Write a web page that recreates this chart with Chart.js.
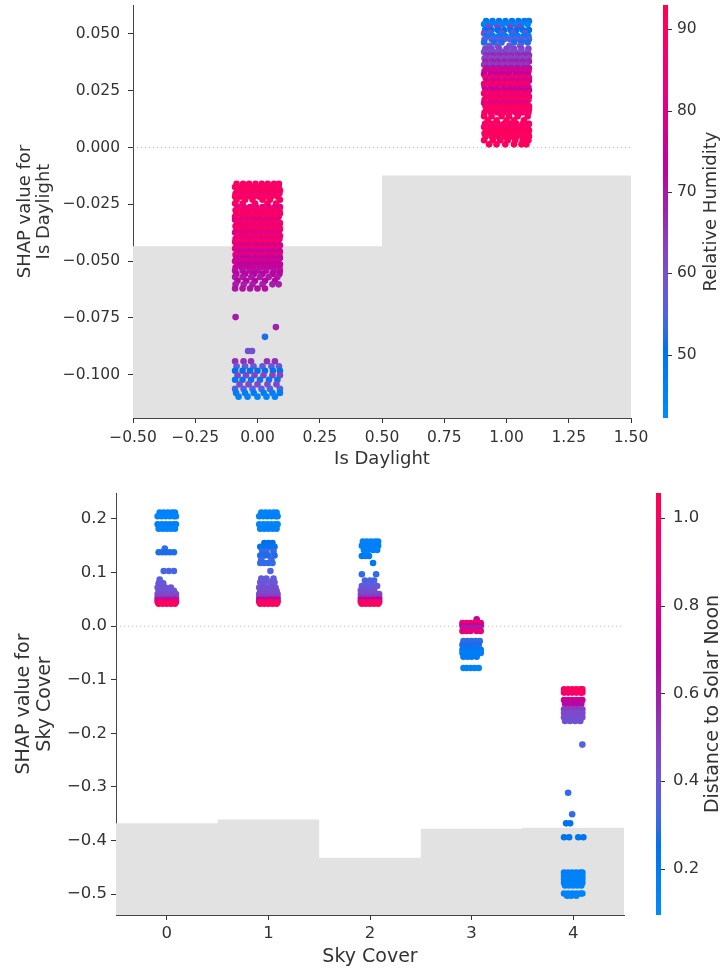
<!DOCTYPE html>
<html>
<head>
<meta charset="utf-8">
<script src="https://cdn.jsdelivr.net/npm/chart.js@4.4.1/dist/chart.umd.min.js"></script>
<style>
  body { margin: 0; background: #fff; }
  canvas { display: block; }
</style>
</head>
<body>
<canvas id="daylightChart" width="722" height="480"></canvas>
<canvas id="skyChart" width="722" height="490"></canvas>
<script>
// ---- Is Daylight (coloured by Relative Humidity) ----
const daylightCats = [0, 1];
const daylightRangeX = [-0.5, 1.5];
const daylightRangeY = [-0.119, 0.0627];
const daylightXTicks = [-0.5, -0.25, 0, 0.25, 0.5, 0.75, 1, 1.25, 1.5];
const daylightYTicks = [-0.1, -0.075, -0.05, -0.025, 0, 0.025, 0.05];
const daylightHistEdges = [-0.5, 0.5, 1.5];
const daylightHistTops = [-0.0434, -0.0123];
const humidityRange = [42.2, 93];
const humidityTicks = [50, 60, 70, 80, 90];

// rows: [SHAP value, humidity, jitter offsets...]
const daylightOff = [
  [-0.0160, 90, -0.084, -0.058, -0.034, -0.008, 0.017, 0.041, 0.066, 0.086],
  [-0.0174, 86, -0.09, -0.064, -0.04, -0.015, 0.01, 0.036, 0.06, 0.085],
  [-0.0188, 92, -0.08, -0.055, -0.03, -0.005, 0.02, 0.045, 0.07, 0.09],
  [-0.0202, 84, -0.088, -0.062, -0.037, -0.012, 0.013, 0.038, 0.063, 0.088],
  [-0.0216, 90, -0.09, -0.066, -0.042, -0.018, 0.006, 0.03, 0.055, 0.08],
  [-0.0230, 88, -0.084, -0.05, -0.02, 0.02, 0.05, 0.09],
  [-0.0246, 91, -0.09, -0.06, -0.01, 0.04, 0.075],
  [-0.0262, 82, -0.08, -0.055, -0.03, -0.005, 0.02, 0.045, 0.07, 0.09],
  [-0.0276, 89, -0.088, -0.062, -0.037, -0.012, 0.013, 0.038, 0.063, 0.088],
  [-0.0290, 85, -0.084, -0.058, -0.034, -0.008, 0.017, 0.041, 0.066, 0.09],
  [-0.0304, 91, -0.09, -0.064, -0.04, -0.015, 0.01, 0.036, 0.06, 0.085],
  [-0.0318, 80, -0.09, -0.066, -0.042, -0.018, 0.006, 0.03, 0.055, 0.08],
  [-0.0332, 88, -0.08, -0.055, -0.03, -0.005, 0.02, 0.045, 0.07, 0.09],
  [-0.0346, 84, -0.088, -0.062, -0.037, -0.012, 0.013, 0.038, 0.063, 0.088],
  [-0.0360, 90, -0.084, -0.058, -0.034, -0.008, 0.017, 0.041, 0.066, 0.09],
  [-0.0374, 79, -0.09, -0.064, -0.04, -0.015, 0.01, 0.036, 0.06, 0.085],
  [-0.0388, 87, -0.08, -0.055, -0.03, -0.005, 0.02, 0.045, 0.07, 0.09],
  [-0.0402, 82, -0.088, -0.062, -0.037, -0.012, 0.013, 0.038, 0.063, 0.088],
  [-0.0416, 89, -0.09, -0.066, -0.042, -0.018, 0.006, 0.03, 0.055, 0.08],
  [-0.0430, 77, -0.084, -0.058, -0.034, -0.008, 0.017, 0.041, 0.066, 0.09],
  [-0.0444, 85, -0.09, -0.064, -0.04, -0.015, 0.01, 0.036, 0.06, 0.085],
  [-0.0458, 75, -0.08, -0.055, -0.03, -0.005, 0.02, 0.045, 0.07, 0.09],
  [-0.0472, 82, -0.088, -0.062, -0.037, -0.012, 0.013, 0.038, 0.063, 0.088],
  [-0.0486, 73, -0.084, -0.058, -0.034, -0.008, 0.017, 0.041, 0.066, 0.09],
  [-0.0500, 79, -0.09, -0.066, -0.042, -0.018, 0.006, 0.03, 0.055, 0.08],
  [-0.0514, 72, -0.08, -0.055, -0.03, -0.005, 0.02, 0.045, 0.07, 0.09],
  [-0.0528, 76, -0.088, -0.062, -0.037, -0.012, 0.013, 0.038, 0.063, 0.088],
  [-0.0542, 71, -0.09, -0.06, -0.03, 0.0, 0.035, 0.065, 0.09],
  [-0.0556, 73, -0.085, -0.05, -0.015, 0.02, 0.06, 0.088],
  [-0.0570, 70, -0.09, -0.06, -0.025, 0.01, 0.045, 0.08],
  [-0.0586, 72, -0.08, -0.045, -0.01, 0.03, 0.07],
  [-0.0602, 69, -0.088, -0.055, -0.02, 0.02, 0.06, 0.085],
  [-0.0620, 71, -0.09, -0.06, -0.03, 0.0, 0.03],
  [-0.0746, 70, -0.088],
  [-0.0790, 68, 0.074],
  [-0.0833, 52, 0.03],
  [-0.0895, 60, -0.038, -0.022],
  [-0.0940, 66, -0.09, -0.056, -0.026, 0.038, 0.07],
  [-0.0962, 57, -0.084, -0.05, -0.016, 0.02, 0.056, 0.086],
  [-0.0982, 51, -0.09, -0.06, -0.03, 0.0, 0.03, 0.062, 0.09],
  [-0.1002, 63, -0.08, -0.046, -0.012, 0.024, 0.06, 0.09],
  [-0.1022, 49, -0.09, -0.06, -0.026, 0.01, 0.046, 0.08],
  [-0.1042, 62, -0.072, -0.036, 0.0, 0.04, 0.076],
  [-0.1062, 55, -0.09, -0.056, -0.02, 0.016, 0.05, 0.09],
  [-0.1080, 47, -0.086, -0.05, -0.015, 0.025, 0.06, 0.09],
  [-0.1096, 45, -0.076, -0.04, 0.0, 0.036, 0.07]
];
const daylightOn = [
  [0.0556, 49, -0.082, -0.056, -0.03, -0.004, 0.022, 0.048, 0.072, 0.09],
  [0.0542, 45, -0.09, -0.064, -0.04, -0.015, 0.01, 0.036, 0.06, 0.085],
  [0.0530, 63, -0.07, -0.035, 0.015, 0.05],
  [0.0517, 51, -0.086, -0.06, -0.035, -0.01, 0.016, 0.04, 0.066, 0.09],
  [0.0503, 60, -0.09, -0.065, -0.02, 0.025, 0.075],
  [0.0490, 47, -0.08, -0.055, -0.03, -0.006, 0.02, 0.045, 0.07, 0.088],
  [0.0476, 56, -0.088, -0.06, -0.034, -0.01, 0.014, 0.04, 0.064, 0.09],
  [0.0462, 52, -0.09, -0.05, -0.02, 0.03, 0.06, 0.085],
  [0.0448, 58, -0.07, -0.035, 0.012, 0.055],
  [0.0434, 63, -0.085, -0.06, -0.03, 0.0, 0.03, 0.06, 0.088],
  [0.0420, 60, -0.09, -0.064, -0.04, -0.015, 0.01, 0.036, 0.06, 0.085],
  [0.0406, 67, -0.08, -0.055, -0.03, -0.005, 0.02, 0.045, 0.07, 0.09],
  [0.0392, 62, -0.088, -0.062, -0.037, -0.012, 0.013, 0.038, 0.063, 0.088],
  [0.0378, 69, -0.084, -0.058, -0.034, -0.008, 0.017, 0.041, 0.066, 0.09],
  [0.0364, 64, -0.09, -0.066, -0.042, -0.018, 0.006, 0.03, 0.055, 0.08],
  [0.0350, 71, -0.08, -0.055, -0.03, -0.005, 0.02, 0.045, 0.07, 0.09],
  [0.0336, 79, -0.088, -0.062, -0.037, -0.012, 0.013, 0.038, 0.063, 0.088],
  [0.0322, 73, -0.09, -0.064, -0.04, -0.015, 0.01, 0.036, 0.06, 0.085],
  [0.0308, 86, -0.084, -0.058, -0.034, -0.008, 0.017, 0.041, 0.066, 0.09],
  [0.0294, 76, -0.08, -0.055, -0.03, -0.005, 0.02, 0.045, 0.07, 0.09],
  [0.0280, 88, -0.09, -0.066, -0.042, -0.018, 0.006, 0.03, 0.055, 0.08],
  [0.0266, 81, -0.088, -0.062, -0.037, -0.012, 0.013, 0.038, 0.063, 0.088],
  [0.0252, 74, -0.084, -0.058, -0.034, -0.008, 0.017, 0.041, 0.066, 0.09],
  [0.0238, 89, -0.09, -0.064, -0.04, -0.015, 0.01, 0.036, 0.06, 0.085],
  [0.0224, 84, -0.08, -0.055, -0.03, -0.005, 0.02, 0.045, 0.07, 0.09],
  [0.0210, 90, -0.088, -0.062, -0.037, -0.012, 0.013, 0.038, 0.063, 0.088],
  [0.0196, 79, -0.09, -0.066, -0.042, -0.018, 0.006, 0.03, 0.055, 0.08],
  [0.0182, 88, -0.084, -0.058, -0.034, -0.008, 0.017, 0.041, 0.066, 0.09],
  [0.0168, 91, -0.08, -0.055, -0.03, -0.005, 0.02, 0.045, 0.07, 0.09],
  [0.0154, 85, -0.088, -0.062, -0.037, -0.012, 0.013, 0.038, 0.063, 0.088],
  [0.0138, 90, -0.09, -0.06, -0.02, 0.01, 0.045, 0.085],
  [0.0120, 87, -0.075, -0.04, 0.0, 0.03, 0.07],
  [0.0104, 91, -0.086, -0.06, -0.035, -0.01, 0.016, 0.04, 0.066, 0.09],
  [0.0090, 86, -0.09, -0.064, -0.04, -0.015, 0.01, 0.036, 0.06, 0.085],
  [0.0076, 92, -0.08, -0.055, -0.03, -0.005, 0.02, 0.045, 0.07, 0.09],
  [0.0062, 89, -0.088, -0.062, -0.037, -0.012, 0.013, 0.038, 0.063, 0.088],
  [0.0048, 91, -0.084, -0.058, -0.034, -0.008, 0.017, 0.041, 0.066, 0.09],
  [0.0032, 88, -0.09, -0.055, -0.025, 0.005, 0.035, 0.065, 0.088],
  [0.0014, 92, -0.07, -0.04, -0.005, 0.03, 0.06, 0.08]
];

// ---- Sky Cover (coloured by Distance to Solar Noon) ----
const skyCats = [0, 1, 2, 3, 4];
const skyRangeX = [-0.5, 4.5];
const skyRangeY = [-0.539, 0.2485];
const skyXTicks = [0, 1, 2, 3, 4];
const skyYTicks = [-0.5, -0.4, -0.3, -0.2, -0.1, 0, 0.1, 0.2];
const skyHistEdges = [-0.5, 0.5, 1.5, 2.5, 3.5, 4.5];
const skyHistTops = [-0.368, -0.361, -0.432, -0.378, -0.376];
const noonRange = [0.094, 1.057];
const noonTicks = [0.2, 0.4, 0.6, 0.8, 1.0];

const skyCover0 = [
  [0.212, 0.16, -0.07, -0.03, 0.01, 0.05, 0.08],
  [0.205, 0.14, -0.09, -0.05, -0.01, 0.03, 0.07, 0.09],
  [0.190, 0.18, -0.09, -0.05, -0.01, 0.03, 0.07, 0.09],
  [0.182, 0.15, -0.08, -0.04, 0.0, 0.04, 0.08],
  [0.145, 0.30, -0.02],
  [0.138, 0.28, -0.08, -0.045, -0.01, 0.03, 0.07],
  [0.103, 0.33, -0.03, 0.02, 0.07],
  [0.087, 0.36, -0.07],
  [0.080, 0.38, -0.08, -0.035],
  [0.072, 0.42, -0.09, -0.05, -0.015, 0.04],
  [0.066, 0.40, -0.08, -0.04, 0.0, 0.03, 0.07],
  [0.060, 0.45, -0.09, -0.05, -0.01, 0.03, 0.07, 0.09],
  [0.054, 0.48, -0.09, -0.05, -0.01, 0.03, 0.07, 0.09],
  [0.049, 0.62, -0.09, -0.05, -0.01, 0.03, 0.07, 0.09],
  [0.045, 0.85, -0.09, -0.05, -0.01, 0.03, 0.07, 0.09],
  [0.042, 1.00, -0.08, -0.04, 0.0, 0.04, 0.08]
];
const skyCover1 = [
  [0.212, 0.15, -0.07, -0.03, 0.01, 0.05, 0.08],
  [0.205, 0.17, -0.09, -0.05, -0.01, 0.03, 0.07, 0.09],
  [0.190, 0.14, -0.09, -0.05, -0.01, 0.03, 0.07, 0.09],
  [0.182, 0.16, -0.08, -0.04, 0.0, 0.04, 0.08],
  [0.155, 0.27, -0.04, 0.0, 0.04],
  [0.148, 0.25, -0.08, -0.03, 0.02, 0.06],
  [0.140, 0.30, -0.06, -0.02, 0.05],
  [0.132, 0.28, -0.08, -0.04, 0.0, 0.06],
  [0.124, 0.32, -0.07, 0.03],
  [0.118, 0.30, -0.08, -0.04, 0.0, 0.04],
  [0.103, 0.34, 0.02],
  [0.089, 0.37, -0.07, -0.02, 0.05],
  [0.082, 0.40, -0.08, -0.04, 0.02, 0.06],
  [0.072, 0.42, -0.09, -0.05, -0.01, 0.03, 0.07],
  [0.066, 0.44, -0.08, -0.04, 0.0, 0.04, 0.08],
  [0.060, 0.46, -0.09, -0.05, -0.01, 0.03, 0.07, 0.09],
  [0.054, 0.50, -0.09, -0.05, -0.01, 0.03, 0.07, 0.09],
  [0.049, 0.65, -0.09, -0.05, -0.01, 0.03, 0.07, 0.09],
  [0.045, 0.88, -0.09, -0.05, -0.01, 0.03, 0.07, 0.09],
  [0.042, 1.00, -0.08, -0.04, 0.0, 0.04, 0.08]
];
const skyCover2 = [
  [0.158, 0.15, -0.07, -0.03, 0.01, 0.05, 0.08],
  [0.150, 0.17, -0.08, -0.04, 0.0, 0.04, 0.08],
  [0.142, 0.16, -0.06, -0.02, 0.03, 0.07],
  [0.131, 0.20, -0.08, -0.045, -0.01],
  [0.118, 0.22, 0.03],
  [0.097, 0.30, -0.08, 0.06],
  [0.085, 0.33, -0.05, 0.0, 0.04],
  [0.075, 0.38, -0.08, -0.03, 0.02, 0.07],
  [0.067, 0.42, -0.09, -0.05, -0.01, 0.04],
  [0.060, 0.45, -0.09, -0.05, -0.01, 0.03, 0.07, 0.09],
  [0.054, 0.50, -0.09, -0.05, -0.01, 0.03, 0.07, 0.09],
  [0.049, 0.66, -0.09, -0.05, -0.01, 0.03, 0.07, 0.09],
  [0.045, 0.86, -0.09, -0.05, -0.01, 0.03, 0.07, 0.09],
  [0.042, 1.00, -0.08, -0.04, 0.0, 0.04, 0.08]
];
const skyCover3 = [
  [0.013, 0.70, 0.05],
  [0.006, 0.95, -0.09, -0.05, -0.01, 0.03, 0.07, 0.09],
  [0.001, 0.75, -0.09, -0.05, -0.01, 0.03, 0.07, 0.09],
  [-0.004, 0.60, -0.08, -0.04, 0.0, 0.04, 0.08],
  [-0.009, 0.85, -0.09, -0.05, -0.01, 0.05, 0.09],
  [-0.028, 0.30, -0.08, -0.04, 0.0, 0.04, 0.08],
  [-0.035, 0.28, -0.09, -0.05, -0.01, 0.03, 0.07],
  [-0.044, 0.20, -0.09, -0.05, -0.01, 0.03, 0.07, 0.09],
  [-0.050, 0.18, -0.09, -0.05, -0.01, 0.03, 0.07, 0.09],
  [-0.057, 0.20, -0.08, -0.04, 0.0, 0.05],
  [-0.078, 0.15, -0.08, -0.05, -0.01, 0.03, 0.07]
];
const skyCover4 = [
  [-0.118, 1.00, -0.09, -0.05, -0.01, 0.03, 0.07, 0.09],
  [-0.124, 0.97, -0.09, -0.05, -0.01, 0.03, 0.07, 0.09],
  [-0.138, 0.75, -0.09, -0.05, -0.01, 0.03, 0.07, 0.09],
  [-0.145, 0.65, -0.08, -0.04, 0.0, 0.04, 0.08],
  [-0.155, 0.50, -0.09, -0.05, -0.01, 0.03, 0.07, 0.09],
  [-0.162, 0.45, -0.09, -0.05, -0.01, 0.03, 0.07, 0.09],
  [-0.170, 0.45, -0.09, -0.05, -0.01, 0.03, 0.07, 0.09],
  [-0.177, 0.42, -0.08, -0.03, 0.02, 0.07],
  [-0.221, 0.35, 0.09],
  [-0.311, 0.30, -0.05],
  [-0.351, 0.30, -0.01],
  [-0.368, 0.25, -0.07, -0.03],
  [-0.394, 0.25, -0.09, -0.04, 0.05, 0.1],
  [-0.460, 0.18, -0.09, -0.05, -0.01, 0.03, 0.07, 0.09],
  [-0.466, 0.15, -0.09, -0.05, -0.01, 0.03, 0.07, 0.09],
  [-0.472, 0.15, -0.09, -0.05, -0.01, 0.03, 0.07, 0.09],
  [-0.479, 0.17, -0.09, -0.05, -0.01, 0.03, 0.07, 0.09],
  [-0.484, 0.15, -0.08, -0.04, 0.0, 0.04, 0.08],
  [-0.499, 0.15, -0.09, -0.05, -0.01, 0.03, 0.07, 0.09],
  [-0.503, 0.13, -0.06, -0.02, 0.03]
];

const FONT = 'DejaVu Sans';
const INK = '#333333';

// shap "red_blue" colormap (LCH interpolation, darker in the middle)
function redBlue(t) {
  t = Math.min(1, Math.max(0, t));
  const L = t < 0.5 ? 54 - 28 * t : 40 + 28 * (t - 0.5);
  const C = 70 + 20 * t;
  const H = 4.6588 + (0.35470565 + 2 * Math.PI - 4.6588) * t;
  const a = C * Math.cos(H), b = C * Math.sin(H);
  const fy = (L + 16) / 116, fx = fy + a / 500, fz = fy - b / 200;
  const inv = v => v ** 3 > 0.008856 ? v ** 3 : (v - 16 / 116) / 7.787;
  const X = 0.95047 * inv(fx), Y = inv(fy), Z = 1.08883 * inv(fz);
  const lin = [
    3.2406 * X - 1.5372 * Y - 0.4986 * Z,
    -0.9689 * X + 1.8758 * Y + 0.0415 * Z,
    0.0557 * X - 0.2040 * Y + 1.0570 * Z
  ];
  const rgb = lin.map(c => {
    c = c <= 0.0031308 ? 12.92 * c : 1.055 * Math.pow(c, 1 / 2.4) - 0.055;
    return Math.round(255 * Math.min(1, Math.max(0, c)));
  });
  return `rgb(${rgb.join(',')})`;
}

const fmt = (v, digits) => v.toFixed(digits).replace('-', '\u2212');

// the label paddings must not shrink the plot area
const noPad = s => { s.paddingTop = 0; s.paddingBottom = 0; s.paddingLeft = 0; s.paddingRight = 0; };

// draws the colour bar next to the 'cb' scale
const colorbarPlugin = {
  id: 'colorbar',
  afterDraw(chart, args, opts) {
    const s = chart.scales.cb;
    const ctx = chart.ctx;
    const x0 = s.left + opts.gap;
    const grad = ctx.createLinearGradient(0, s.bottom, 0, s.top);
    for (let i = 0; i <= 24; i++) grad.addColorStop(i / 24, redBlue(i / 24));
    ctx.save();
    ctx.fillStyle = grad;
    ctx.fillRect(x0, s.top, opts.width, s.bottom - s.top);
    ctx.strokeStyle = INK;
    ctx.lineWidth = 1;
    s.ticks.forEach(t => {
      const y = Math.round(s.getPixelForValue(t.value)) + 0.5;
      ctx.beginPath();
      ctx.moveTo(x0 + opts.width, y);
      ctx.lineTo(x0 + opts.width + 4, y);
      ctx.stroke();
    });
    ctx.translate(s.left + opts.titleOffset, (s.top + s.bottom) / 2);
    ctx.rotate(-Math.PI / 2);
    ctx.fillStyle = INK;
    ctx.font = `${opts.titleSize}px "${FONT}"`;
    ctx.textAlign = 'center';
    ctx.textBaseline = 'middle';
    ctx.fillText(opts.title, 0, 0);
    ctx.restore();
  }
};

function dependencePlot(canvasId, d, look) {
  const points = [];
  d.groups.forEach((rows, i) => {
    rows.forEach(([shap, c, ...offs]) => {
      offs.forEach(o => points.push({ x: d.cats[i] + o, y: shap, c: c }));
    });
  });
  const hist = d.histTops.map((h, i) => ({ x: d.histEdges[i], y: h }));
  hist.push({ x: d.histEdges[d.histEdges.length - 1], y: d.histTops[d.histTops.length - 1] });
  const [cMin, cMax] = d.colorRange;
  const pointColor = ctx => ctx.raw ? redBlue((ctx.raw.c - cMin) / (cMax - cMin)) : '#888';
  const tickFont = { family: FONT, size: look.tickSize };
  const titleFont = { family: FONT, size: look.titleSize, lineHeight: 1.1 };

  return new Chart(document.getElementById(canvasId), {
    type: 'scatter',
    data: {
      datasets: [
        {
          type: 'line', data: hist, stepped: 'before', fill: 'start',
          backgroundColor: '#e2e2e2', borderColor: 'rgba(0,0,0,0)', borderWidth: 0,
          pointRadius: 0, order: 3
        },
        {
          type: 'line', data: [{ x: d.rangeX[0], y: 0 }, { x: d.rangeX[1], y: 0 }],
          borderColor: 'rgba(136,136,136,0.55)', borderWidth: 1, borderDash: [1, 3],
          pointRadius: 0, fill: false, order: 2
        },
        {
          data: points, pointRadius: look.dotRadius, pointBorderWidth: 0,
          pointBackgroundColor: pointColor, pointBorderColor: pointColor, order: 1
        }
      ]
    },
    options: {
      responsive: false,
      animation: false,
      events: [],
      layout: { padding: { top: look.padTop, left: 0, right: 0, bottom: 0 } },
      plugins: {
        legend: { display: false },
        tooltip: { enabled: false },
        colorbar: {
          gap: 32, width: 5, title: d.colorTitle,
          titleOffset: look.cbTitleOffset, titleSize: look.titleSize
        }
      },
      scales: {
        x: {
          type: 'linear', min: d.rangeX[0], max: d.rangeX[1],
          afterBuildTicks: s => { s.ticks = d.xTicks.map(v => ({ value: v })); },
          afterFit: s => { s.height = look.xHeight; noPad(s); },
          grid: { drawOnChartArea: false, drawTicks: true, tickLength: 5, tickColor: INK },
          border: { color: '#444' },
          ticks: {
            color: INK, font: tickFont, padding: look.xTickPad,
            maxRotation: 0, autoSkip: false, callback: v => fmt(v, d.xDigits)
          },
          title: {
            display: true, text: d.xTitle, color: INK, font: titleFont,
            padding: { top: 0, bottom: look.xTitlePad }
          }
        },
        y: {
          type: 'linear', position: 'left', min: d.rangeY[0], max: d.rangeY[1],
          afterBuildTicks: s => { s.ticks = d.yTicks.map(v => ({ value: v })); },
          afterFit: s => { s.width = look.yWidth; noPad(s); },
          grid: { drawOnChartArea: false, drawTicks: true, tickLength: 5, tickColor: INK },
          border: { color: '#444' },
          ticks: {
            color: INK, font: tickFont, padding: look.yTickPad,
            autoSkip: false, callback: v => fmt(v, d.yDigits)
          },
          title: {
            display: true, text: d.yTitle, color: INK, font: titleFont,
            padding: { top: look.yTitlePad, bottom: 0 }
          }
        },
        cb: {
          type: 'linear', position: 'right', min: d.colorRange[0], max: d.colorRange[1],
          afterBuildTicks: s => { s.ticks = d.colorTicks.map(v => ({ value: v })); },
          afterFit: s => { s.width = 722 - look.plotRight; noPad(s); },
          grid: { display: false, drawTicks: true, tickLength: look.cbLabelX - 2 },
          border: { display: false },
          ticks: {
            color: INK, font: tickFont, padding: 2,
            autoSkip: false, callback: v => fmt(v, d.colorDigits)
          }
        }
      }
    },
    plugins: [colorbarPlugin]
  });
}

dependencePlot('daylightChart', {
  cats: daylightCats, groups: [daylightOff, daylightOn],
  rangeX: daylightRangeX, rangeY: daylightRangeY,
  xTicks: daylightXTicks, yTicks: daylightYTicks, xDigits: 2, yDigits: 3,
  histEdges: daylightHistEdges, histTops: daylightHistTops,
  colorRange: humidityRange, colorTicks: humidityTicks, colorDigits: 0,
  xTitle: 'Is Daylight', yTitle: ['SHAP value for', 'Is Daylight'], colorTitle: 'Relative Humidity'
}, {
  padTop: 5, yWidth: 133, plotRight: 631, xHeight: 62, dotRadius: 3.3,
  tickSize: 15.5, titleSize: 18, yTickPad: 8, xTickPad: 6, xTitlePad: 11,
  yTitlePad: 15, cbLabelX: 46, cbTitleOffset: 80
});

dependencePlot('skyChart', {
  cats: skyCats, groups: [skyCover0, skyCover1, skyCover2, skyCover3, skyCover4],
  rangeX: skyRangeX, rangeY: skyRangeY,
  xTicks: skyXTicks, yTicks: skyYTicks, xDigits: 0, yDigits: 1,
  histEdges: skyHistEdges, histTops: skyHistTops,
  colorRange: noonRange, colorTicks: noonTicks, colorDigits: 1,
  xTitle: 'Sky Cover', yTitle: ['SHAP value for', 'Sky Cover'], colorTitle: 'Distance to Solar Noon'
}, {
  padTop: 13, yWidth: 116, plotRight: 624, xHeight: 55, dotRadius: 3.3,
  tickSize: 16.5, titleSize: 19, yTickPad: 4, xTickPad: 4, xTitlePad: 2,
  yTitlePad: 14, cbLabelX: 49, cbTitleOffset: 89
});
</script>
</body>
</html>
